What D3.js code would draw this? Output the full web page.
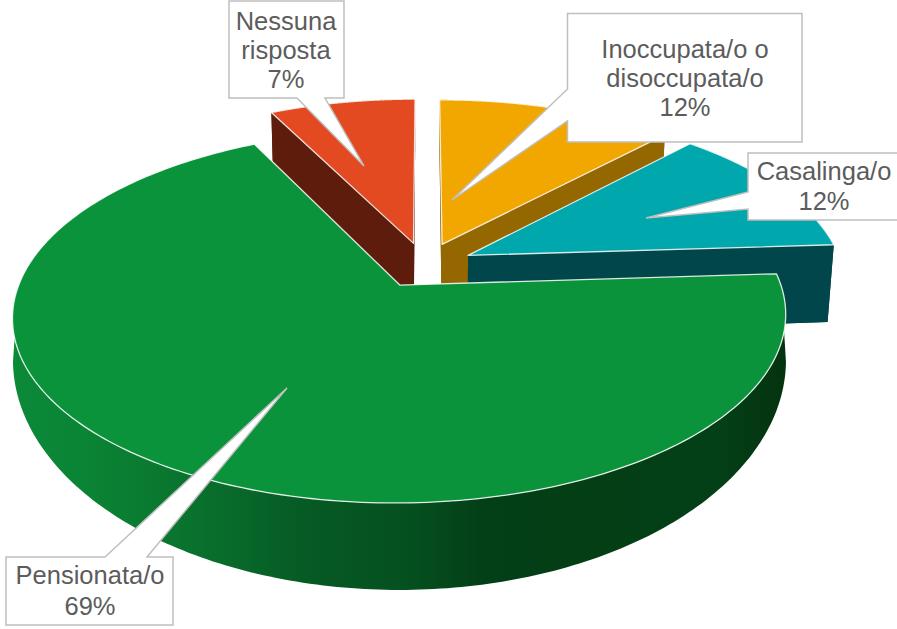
<!DOCTYPE html>
<html><head><meta charset="utf-8">
<script src="https://cdn.jsdelivr.net/npm/d3@7"></script>
<style>html,body{margin:0;padding:0;background:#fff}svg{display:block}text{font-family:"Liberation Sans",Arial,sans-serif;font-size:25.5px;fill:#5c5c5c;text-anchor:middle}</style>
</head><body><svg id="c" width="897" height="629"></svg>
<script>
const categories=["Inoccupata/o o disoccupata/o","Casalinga/o","Pensionata/o","Nessuna risposta"];
const values=[12,12,68.6,7.4];
const shownPercent=[12,12,69,7];
const labelLines=[["Inoccupata/o o","disoccupata/o"],["Casalinga/o"],["Pensionata/o"],["Nessuna","risposta"]];
const topColors=["#F2A700","#00A7AD","#0A933A","#E44A22"];
const wallColors=["#946700","#00464A","#0A933A","#5E1D0C"];
const drawOrder=[3,0,1,2];
const labelBoxes=[
 {x:567.5,y:13.5,w:234.5,h:128.5,tail:[[567.5,89],[452,200],[567.5,121]],cx:685,base:58,lh:29},
 {x:748,y:153,w:160,h:67,tail:[[748,192],[646,218],[748,209]],cx:824,base:180,lh:30},
 {x:6,y:557,w:167,h:68,tail:[[105,557],[287,388],[147,557]],cx:90,base:584,lh:31},
 {x:229,y:1,w:115,h:97,tail:[[297,98],[364,166],[325,98]],cx:286,base:30,lh:29}
];
const greenStops=[[0,"#0B8A38"],[.09,"#0A8435"],[.18,"#0A7A30"],[.28,"#086A2B"],[.38,"#065A24"],[.51,"#05501F"],[.61,"#033F17"],[.71,"#033E15"],[.91,"#044017"],[1,"#03330F"]];

const svg=d3.select("#c"),line=d3.line(),cx=424.5,cy=265,explode=.13;
const topP={A:374,B:174.6,C:0,k:.165},botSmall={A:368,B:194,C:81,k:.157},botGreen={A:386.5,B:230,C:69,k:0};
const proj=(p,[u,v])=>{const w=1+p.k*v;return [cx+p.A*u/w,cy+(p.C-p.B*v)/w];};
const arcs=d3.pie().sort(null).startAngle(0).endAngle(2*Math.PI)(values);

const grad=svg.append("defs").append("linearGradient").attr("id","gw").attr("gradientUnits","userSpaceOnUse").attr("x1",12).attr("x2",787).attr("y1",0).attr("y2",0);
greenStops.forEach(s=>grad.append("stop").attr("offset",s[0]).attr("stop-color",s[1]));

drawOrder.forEach(i=>{
  const d=arcs[i],botP=i===2?botGreen:botSmall;
  const mid=(d.startAngle+d.endAngle)/2,ou=explode*Math.sin(mid),ov=explode*Math.cos(mid);
  const pt=a=>[ou+Math.sin(a),ov+Math.cos(a)],apex=[ou,ov];
  const angles=d3.range(0,241).map(t=>d.startAngle+(d.endAngle-d.startAngle)*t/240);
  const rim=angles.map(pt);
  const face=p=>[proj(p,apex),...rim.map(r=>proj(p,r))];
  const g=svg.append("g");
  const wall=(pts,fill)=>g.append("path").attr("d",line(pts)+"Z").attr("fill",fill);
  if(i===2){
    const front=angles.filter(a=>Math.cos(a)<=0).map(pt);
    wall([...front.map(r=>proj(topP,r)),...front.slice().reverse().map(r=>proj(botP,r))],"url(#gw)");
  } else {
    const fill=wallColors[i];
    wall(face(botP),fill);
    wall([proj(topP,apex),proj(topP,rim[0]),proj(botP,rim[0]),proj(botP,apex)],fill);
    wall([proj(topP,apex),proj(topP,rim[240]),proj(botP,rim[240]),proj(botP,apex)],fill);
    wall([...rim.map(r=>proj(topP,r)),...rim.slice().reverse().map(r=>proj(botP,r))],fill);
  }
  g.append("path").attr("d",line(face(topP))+"Z").attr("fill",topColors[i]).attr("stroke","#fff").attr("stroke-opacity",.85).attr("stroke-width",1.3).attr("stroke-linejoin","round");
});

labelBoxes.forEach((b,i)=>{
  const g=svg.append("g");
  const x0=b.x,x1=b.x+b.w,y0=b.y,y1=b.y+b.h,[t1,t2,t3]=b.tail;
  let pts;
  if(t1[0]===x0) pts=[[x0,y0],[x1,y0],[x1,y1],[x0,y1],t3,t2,t1];
  else if(t1[1]===y0) pts=[[x0,y0],t1,t2,t3,[x1,y0],[x1,y1],[x0,y1]];
  else pts=[[x0,y0],[x1,y0],[x1,y1],t3,t2,t1,[x0,y1]];
  g.append("path").attr("d",line(pts)+"Z").attr("fill","#fff").attr("stroke","#BFBFBF").attr("stroke-width",1.5);
  [...labelLines[i],shownPercent[i]+"%"].forEach((t,j)=>g.append("text").attr("x",b.cx).attr("y",b.base+j*b.lh).text(t));
});
</script></body></html>
